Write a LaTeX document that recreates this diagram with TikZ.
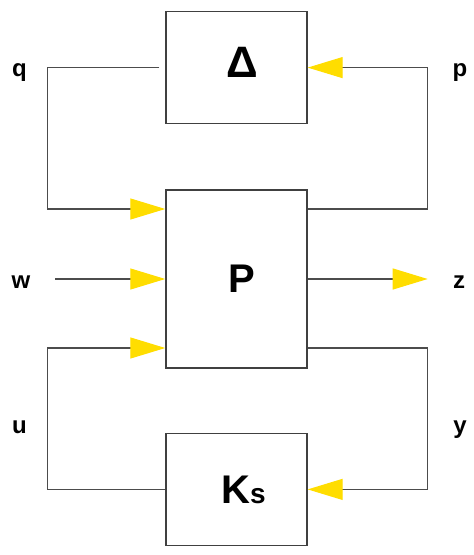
\documentclass[tikz,border=0pt]{standalone}
\usepackage{fontspec}
\setmainfont{Liberation Sans}
\usepackage{tikz}
\usetikzlibrary{positioning}
\usetikzlibrary{arrows.meta}
\definecolor{tipyellow}{HTML}{FFDD00}
\tikzset{	node distance=65pt,
	block/.style={
		draw=black!75,
		line width=1.4pt,
		inner sep=0pt,
		minimum width=141pt,
		font=\fontsize{40}{40}\selectfont\bfseries},
	signal/.style={
		anchor=base,
		font=\fontsize{24}{24}\selectfont\bfseries},
	feed/.style={
		draw=black!70,
		line width=1.2pt,
		-{Triangle[length=35pt,width=21pt,color=tipyellow]}}
}

\begin{document}
\begin{tikzpicture}[x=1pt,y=-1pt]
	\useasboundingbox (0,0) rectangle (474,555);
	\node[block, minimum height=178pt] (P) at (236.5,279) {\hspace*{10pt}P};
	\node[block, minimum height=112pt, text depth=10pt, above = of P] (delta) {\hspace*{12pt}{\fontsize{44}{44}\selectfont Δ}};
	\node[block, minimum height=112pt, below = 64pt of P] (K) {\hspace*{14pt}K{\fontsize{28}{28}\selectfont s}};
	
	\node[signal] (q) at (19.5,76) {q};
	\node[signal] (p) at (460,76) {p};
	\node[signal] (w) at (21,288) {w};
	\node[signal] (z) at (459,288) {z};
	\node[signal] (u) at (19.5,433) {u};
	\node[signal] (y) at (460,433) {y};
	\coordinate (win) at (55,279);
	
	\draw[feed] ([xshift=-6pt]delta.west) -- ++(-112pt,0) |- ([yshift=70pt]P.west);
	\draw[feed] ([yshift=70pt]P.east) -- ++(120pt,0) |- (delta.east);
	
	\draw[feed] (win) -- (P.west);
	\draw[feed] (P.east) -- ++(120pt,0);
	
	\draw[feed] (K.west) -- ++(-118pt,0) |- ([yshift=-69pt]P.west);
	\draw[feed] ([yshift=-69pt]P.east) -- ++(120pt,0) |- (K.east);
	
\end{tikzpicture}
\end{document}
